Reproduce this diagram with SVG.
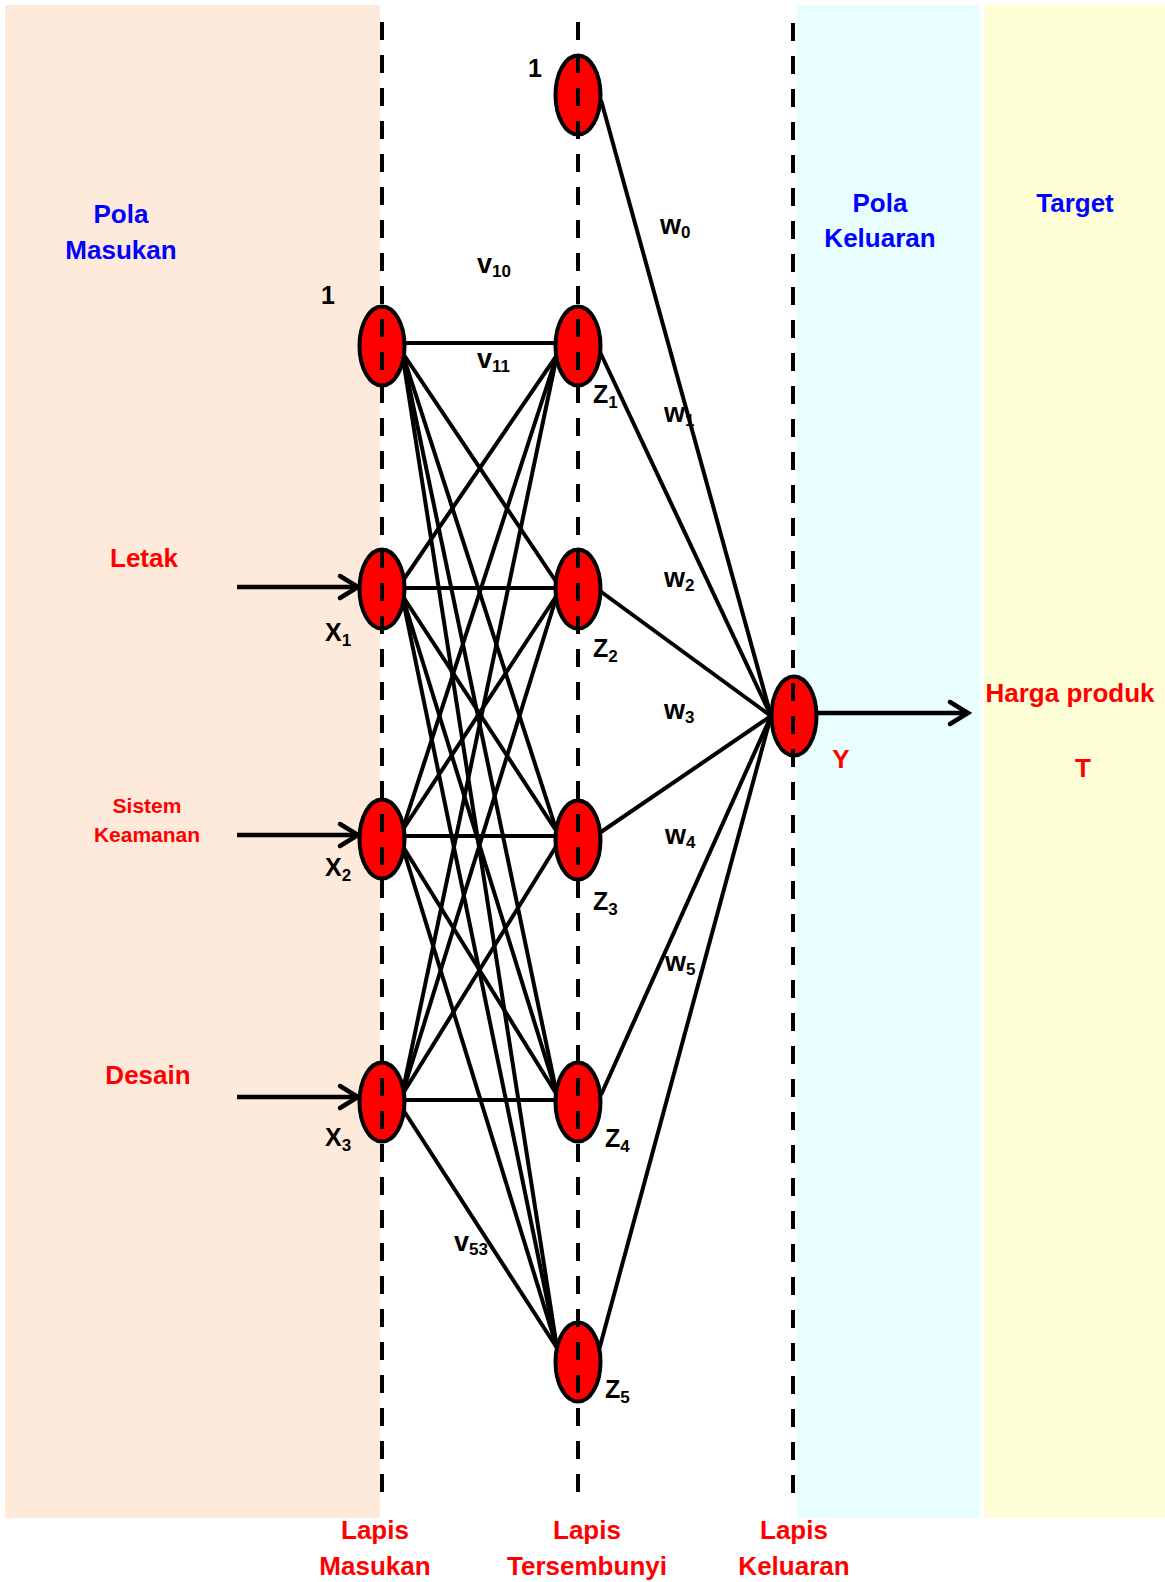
<svg xmlns="http://www.w3.org/2000/svg" width="1165" height="1582" viewBox="0 0 1165 1582">
<style>
  .bg { stroke: none; }
  .node { fill: #FF0000; stroke: #000; stroke-width: 4; }
  .conn { stroke: #000; stroke-width: 4; fill: none; }
  .arrow { stroke: #000; stroke-width: 4.5; fill: none; marker-end: url(#chev); }
  .dash { stroke: #000; stroke-width: 4; stroke-dasharray: 18 15; fill: none; }
  text { font-family: "Liberation Sans", Arial, sans-serif; font-weight: bold; }
  .blue { fill: #0000FF; font-size: 26px; text-anchor: middle; }
  .red { fill: #FF0000; font-size: 26px; text-anchor: middle; }
  .red21 { fill: #FF0000; font-size: 21px; text-anchor: middle; }
  .lbl { fill: #000; font-size: 25px; }
  .wl { fill: #000; font-size: 27px; }
  .sub { font-size: 17px; }
</style>
<defs>
  <marker id="chev" markerUnits="userSpaceOnUse" viewBox="-24 -14 28 28" markerWidth="28" markerHeight="28" refX="0" refY="0" orient="auto" overflow="visible">
    <path d="M-18,-11 L0,0 L-18,11" fill="none" stroke="#000" stroke-width="4.5" stroke-linecap="round" stroke-linejoin="miter"/>
  </marker>
</defs>

<g id="backgrounds">
  <rect class="bg" x="5" y="5" width="375" height="1513" fill="#FDEADA"/>
  <rect class="bg" x="797" y="5" width="183" height="1513" fill="#E9FEFE"/>
  <rect class="bg" x="984" y="5" width="181" height="1513" fill="#FFFFD7"/>
</g>

<g id="connectors">
  <path class="conn" d="M402,343 L558,343"/>
  <path class="conn" d="M402,352 L557,583"/>
  <path class="conn" d="M402,352 L557,832"/>
  <path class="conn" d="M402,352 L557,1095"/>
  <path class="conn" d="M402,352 L557,1348"/>
  <path class="conn" d="M402,582 L557,355"/>
  <path class="conn" d="M402,588 L558,588"/>
  <path class="conn" d="M402,595 L557,832"/>
  <path class="conn" d="M402,595 L557,1095"/>
  <path class="conn" d="M402,595 L557,1348"/>
  <path class="conn" d="M402,831 L557,355"/>
  <path class="conn" d="M402,831 L557,595"/>
  <path class="conn" d="M402,836 L558,836"/>
  <path class="conn" d="M402,845 L557,1095"/>
  <path class="conn" d="M402,845 L557,1348"/>
  <path class="conn" d="M402,1095 L557,355"/>
  <path class="conn" d="M402,1095 L557,595"/>
  <path class="conn" d="M402,1095 L557,845"/>
  <path class="conn" d="M402,1100 L558,1100"/>
  <path class="conn" d="M402,1108 L557,1348"/>
  <path class="conn" d="M601,100 L771,716"/>
  <path class="conn" d="M600,352 L771,716"/>
  <path class="conn" d="M600,591 L771,716"/>
  <path class="conn" d="M601,832 L771,716"/>
  <path class="conn" d="M601,1095 L771,716"/>
  <path class="conn" d="M599,1350 L771,716"/>
  <path class="arrow" d="M237,587 L358,587"/>
  <path class="arrow" d="M237,835 L358,835"/>
  <path class="arrow" d="M237,1097 L358,1097"/>
  <path class="arrow" d="M817,713 L968,713"/>
</g>

<g id="node-bias-in"><ellipse class="node" cx="382" cy="346" rx="22.5" ry="39.5"/></g>
<g id="node-x1"><ellipse class="node" cx="382" cy="589" rx="22.5" ry="39.5"/></g>
<g id="node-x2"><ellipse class="node" cx="382" cy="839" rx="22.5" ry="39.5"/></g>
<g id="node-x3"><ellipse class="node" cx="382" cy="1102" rx="22.5" ry="39.5"/></g>
<g id="node-bias-hidden"><ellipse class="node" cx="578" cy="95" rx="22.5" ry="39.5"/></g>
<g id="node-z1"><ellipse class="node" cx="578" cy="346" rx="22.5" ry="39.5"/></g>
<g id="node-z2"><ellipse class="node" cx="578" cy="589" rx="22.5" ry="39.5"/></g>
<g id="node-z3"><ellipse class="node" cx="578" cy="840" rx="22.5" ry="39.5"/></g>
<g id="node-z4"><ellipse class="node" cx="578" cy="1102" rx="22.5" ry="39.5"/></g>
<g id="node-z5"><ellipse class="node" cx="578" cy="1362" rx="22.5" ry="39.5"/></g>
<g id="node-y"><ellipse class="node" cx="794" cy="716" rx="22.5" ry="39.5"/></g>

<g id="layer-lines">
  <line class="dash" x1="382" y1="22" x2="382" y2="1505"/>
  <line class="dash" x1="578" y1="22" x2="578" y2="1497"/>
  <line class="dash" x1="793" y1="23" x2="793" y2="1495"/>
</g>

<g id="labels">
  <text class="blue" x="121" y="223">Pola</text>
  <text class="blue" x="121" y="259">Masukan</text>
  <text class="blue" x="880" y="212">Pola</text>
  <text class="blue" x="880" y="247">Keluaran</text>
  <text class="blue" x="1075" y="212">Target</text>

  <text class="red" x="144" y="567">Letak</text>
  <text class="red21" x="147" y="813">Sistem</text>
  <text class="red21" x="147" y="842">Keamanan</text>
  <text class="red" x="148" y="1084">Desain</text>
  <text class="red" x="1070" y="702">Harga produk</text>
  <text class="red" x="1083" y="777">T</text>
  <text class="red" x="841" y="768" font-size="25">Y</text>

  <text class="red" x="375" y="1539">Lapis</text>
  <text class="red" x="375" y="1575">Masukan</text>
  <text class="red" x="587" y="1539">Lapis</text>
  <text class="red" x="587" y="1575">Tersembunyi</text>
  <text class="red" x="794" y="1539">Lapis</text>
  <text class="red" x="794" y="1575">Keluaran</text>

  <text class="lbl" x="328" y="304" text-anchor="middle">1</text>
  <text class="lbl" x="535" y="77" text-anchor="middle">1</text>

  <text class="wl" x="477" y="273">v<tspan class="sub" dy="4">10</tspan></text>
  <text class="wl" x="477" y="368">v<tspan class="sub" dy="4">11</tspan></text>
  <text class="wl" x="454" y="1251">v<tspan class="sub" dy="4">53</tspan></text>

  <text class="lbl" x="593" y="403">Z<tspan class="sub" dy="5">1</tspan></text>
  <text class="lbl" x="593" y="657">Z<tspan class="sub" dy="5">2</tspan></text>
  <text class="lbl" x="593" y="910">Z<tspan class="sub" dy="5">3</tspan></text>
  <text class="lbl" x="605" y="1147">Z<tspan class="sub" dy="5">4</tspan></text>
  <text class="lbl" x="605" y="1398">Z<tspan class="sub" dy="5">5</tspan></text>

  <text class="lbl" x="325" y="641">X<tspan class="sub" dy="5">1</tspan></text>
  <text class="lbl" x="325" y="876">X<tspan class="sub" dy="5">2</tspan></text>
  <text class="lbl" x="325" y="1146">X<tspan class="sub" dy="5">3</tspan></text>

  <text class="wl" x="660" y="234">w<tspan class="sub" dy="4">0</tspan></text>
  <text class="wl" x="664" y="422">w<tspan class="sub" dy="4">1</tspan></text>
  <text class="wl" x="664" y="587">w<tspan class="sub" dy="4">2</tspan></text>
  <text class="wl" x="664" y="719">w<tspan class="sub" dy="4">3</tspan></text>
  <text class="wl" x="665" y="844">w<tspan class="sub" dy="4">4</tspan></text>
  <text class="wl" x="665" y="971">w<tspan class="sub" dy="4">5</tspan></text>
</g>
</svg>
